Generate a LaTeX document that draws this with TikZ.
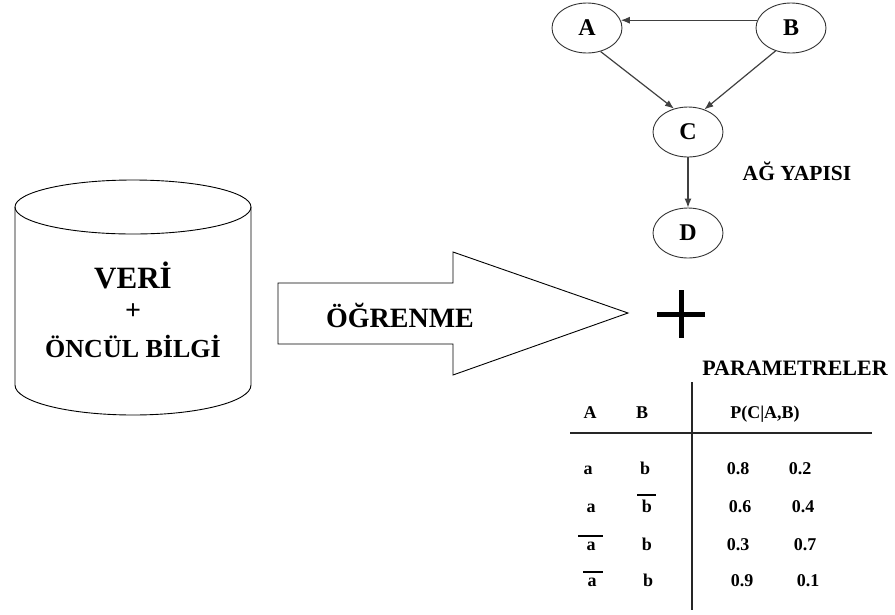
\documentclass[tikz,border=0pt]{standalone}
\usepackage{fontspec}
\setmainfont{Liberation Serif}
\usetikzlibrary{arrows.meta,shapes.geometric}

\begin{document}
\begin{tikzpicture}[x=1pt,y=-1pt,
  txt/.style={font=\bfseries\fontsize{#1}{#1}\selectfont, inner sep=0pt, text=black},
  cell/.style={txt=18, anchor=base},
  var/.style={ellipse, draw=black!80, line width=0.9pt, minimum width=70pt,
              minimum height=50pt, inner sep=0pt, txt=24},
  link/.style={draw=black!75, line width=1.2pt, -{Latex[length=9pt,width=7pt]}},
  rule/.style={draw=black!85, line width=1.4pt}]
\useasboundingbox (0,0) rectangle (895,614);

% data store (cylinder)
\draw[line width=0.9pt] (15,207) -- (15,385)
  arc[start angle=180, end angle=360, x radius=118, y radius=-30]
  -- (251,207);
\draw[line width=0.9pt] (133,207) ellipse[x radius=118, y radius=27];
\node[txt=31] (veri) at (133,275) {VERİ};
\node[txt=28] (plus1) at (133,312) {+};
\node[txt=26] (oncul) at (133,346) {ÖNCÜL BİLGİ};

% learning arrow
\draw[line width=0.9pt] (278,283) -- (453,283) -- (453,252) -- (628,313)
  -- (453,375) -- (453,344) -- (278,344) -- cycle;
\node[txt=28] (ogrenme) at (400,315) {ÖĞRENME};

% network structure
\node[var] (A) at (587,28) {A};
\node[var] (B) at (791,28) {B};
\node[var] (C) at (688,132) {C};
\node[var] (D) at (688,233) {D};
\draw[link] (B.167) -- (A.13);
\draw[link] (A.-60) -- (C.121);
\draw[link] (B.-124) -- (C.54);
\draw[link] (C) -- (D);
\node[txt=21.5] (ag) at (797,171) {AĞ YAPISI};

% big plus
\draw[line width=5pt] (657,314) -- (705,314);
\draw[line width=5pt] (681,290) -- (681,338);

% parameter table
\node[txt=22] (param) at (795,368) {PARAMETRELER};
\draw[rule] (692,382) -- (692,610);
\draw[rule] (570,433) -- (872,433);
\node[cell] (hA) at (590,418) {A};
\node[cell] (hB) at (642,418) {B};
\node[cell] (hP) at (765,418) {P(C|A,B)};

\node[cell] (a1) at (588,474) {a};
\node[cell] (b1) at (645,474) {b};
\node[cell] (p11) at (738,474) {0.8};
\node[cell] (p12) at (800,474) {0.2};

\node[cell] (a2) at (591,512) {a};
\node[cell] (b2) at (647,512) {b};
\node[cell] (p21) at (740,512) {0.6};
\node[cell] (p22) at (803,512) {0.4};

\node[cell] (a3) at (591,550) {a};
\node[cell] (b3) at (647,550) {b};
\node[cell] (p31) at (738,550) {0.3};
\node[cell] (p32) at (805,550) {0.7};

\node[cell] (a4) at (592,586) {a};
\node[cell] (b4) at (648,586) {b};
\node[cell] (p41) at (742,586) {0.9};
\node[cell] (p42) at (808,586) {0.1};

% negation bars
\draw[line width=1.2pt] (637,495) -- (656,495);
\draw[line width=1.2pt] (578,536) -- (603,536);
\draw[line width=1.2pt] (583,572) -- (603,572);
\end{tikzpicture}
\end{document}
